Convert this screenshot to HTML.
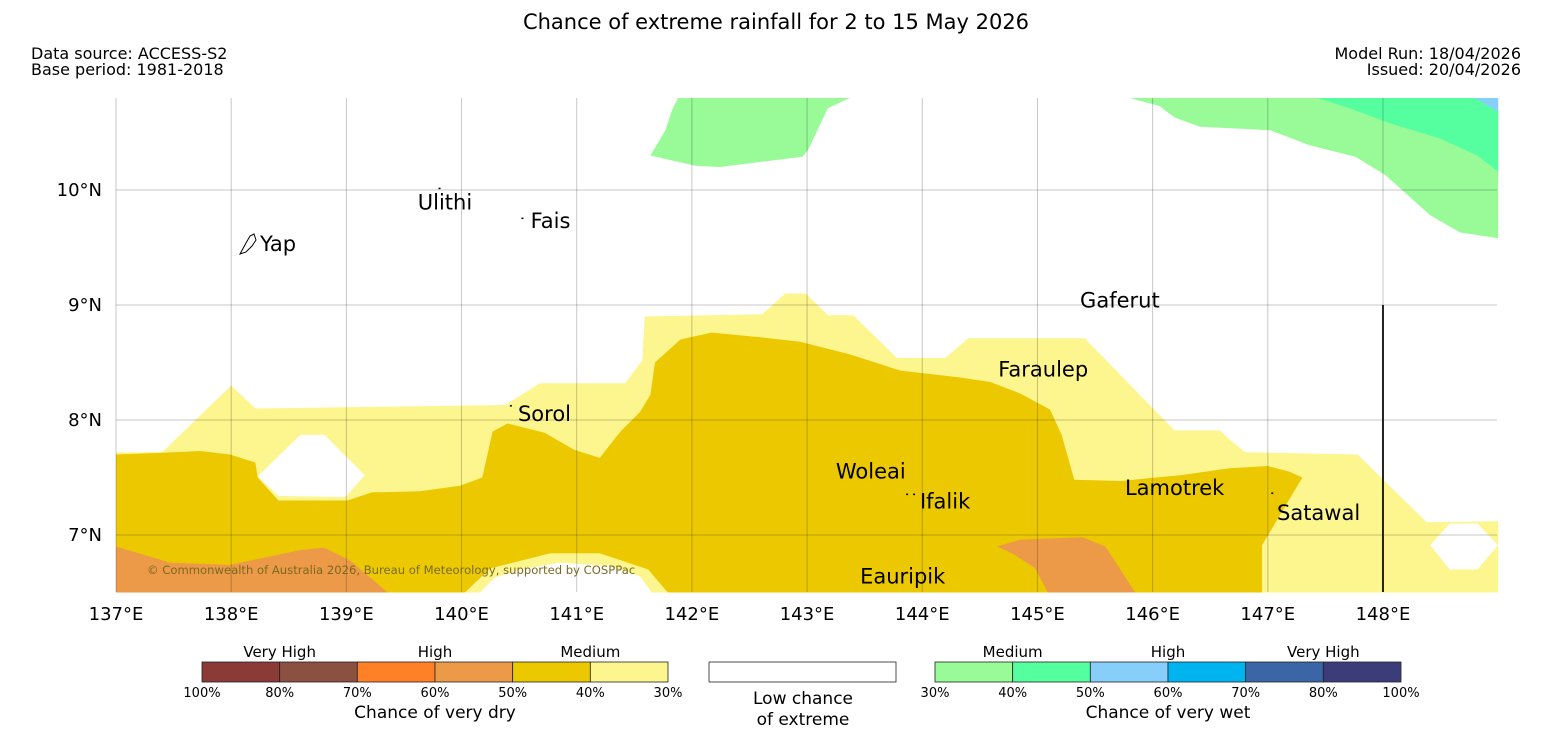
<!DOCTYPE html>
<html><head><meta charset="utf-8"><style>
body{margin:0;background:#fff;width:1552px;height:736px;overflow:hidden;font-family:"Liberation Sans","DejaVu Sans",sans-serif}
</style></head><body>
<svg id="c" width="1552" height="736" xmlns="http://www.w3.org/2000/svg" font-family="DejaVu Sans, Liberation Sans, sans-serif">
<text x="776" y="29" text-anchor="middle" font-size="21">Chance of extreme rainfall for 2 to 15 May 2026</text>
<text x="31" y="59" font-size="16">Data source: ACCESS-S2</text>
<text x="31" y="75" font-size="16">Base period: 1981-2018</text>
<text x="1521" y="59" font-size="16" text-anchor="end">Model Run: 18/04/2026</text>
<text x="1521" y="75" font-size="16" text-anchor="end">Issued: 20/04/2026</text>
<g id="map"></g>
<g id="axes"></g>
<g id="legend"></g>
</svg>
<script>
const lonTicks=[137,138,139,140,141,142,143,144,145,146,147,148];
const latTicks=[10,9,8,7];
const lightYellow=[[137,7.72],[137.4,7.72],[138,8.3],[138.21,8.1],[140.38,8.13],[140.68,8.32],[141.42,8.32],[141.57,8.52],[141.59,8.9],[142.61,8.92],[142.81,9.1],[142.99,9.1],[143.18,8.91],[143.4,8.91],[143.78,8.54],[144.2,8.54],[144.4,8.71],[145.41,8.71],[146.19,7.91],[146.58,7.91],[146.8,7.72],[147.78,7.7],[148.38,7.11],[149,7.12],[149,6.5],[137,6.5]];
const whiteHole1=[[138.6,7.87],[138.81,7.87],[139.16,7.52],[138.99,7.33],[138.41,7.34],[138.23,7.51]];
const whiteHole2=[[148.41,6.91],[148.58,7.1],[148.82,7.1],[149,6.91],[148.82,6.7],[148.58,6.7]];
const whiteBottom=[[140.16,6.5],[140.29,6.63],[140.51,6.7],[140.85,6.76],[141.29,6.73],[141.55,6.64],[141.65,6.5]];
const darkYellow=[[137,7.7],[137.51,7.72],[137.73,7.73],[137.99,7.7],[138.21,7.63],[138.23,7.5],[138.41,7.3],[139.01,7.3],[139.22,7.37],[139.64,7.38],[139.99,7.43],[140.18,7.5],[140.27,7.9],[140.4,7.97],[140.72,7.89],[140.98,7.74],[141.2,7.67],[141.38,7.9],[141.55,8.07],[141.64,8.22],[141.68,8.5],[141.9,8.7],[142.17,8.76],[142.59,8.72],[142.94,8.68],[143.37,8.57],[143.81,8.43],[144.33,8.37],[144.59,8.33],[144.85,8.23],[145.11,8.09],[145.21,7.87],[145.32,7.48],[145.72,7.47],[146.24,7.52],[146.67,7.58],[147,7.6],[147.19,7.55],[147.3,7.5],[146.95,6.91],[146.95,6.5],[141.79,6.5],[141.62,6.7],[141.2,6.84],[140.77,6.84],[140.25,6.71],[140.03,6.5],[137,6.5]];
const orangeLeft=[[137,6.9],[137.47,6.76],[137.99,6.74],[138.6,6.87],[138.81,6.89],[139.03,6.78],[139.36,6.5],[137,6.5]];
const orangeMid=[[144.65,6.9],[144.85,6.96],[145.39,6.98],[145.59,6.9],[145.85,6.5],[145.09,6.5],[144.98,6.71],[144.8,6.83]];
const greenTop=[[141.88,10.8],[143.37,10.8],[143.18,10.71],[143.01,10.35],[142.96,10.29],[142.24,10.2],[142.03,10.21],[141.64,10.3],[141.77,10.52],[141.83,10.7]];
const greenRight=[[145.8,10.8],[149,10.8],[149,9.58],[148.67,9.63],[148.41,9.78],[148.02,10.13],[147.76,10.29],[147.36,10.39],[147.02,10.52],[146.41,10.55],[146.19,10.63],[146.06,10.73]];
const greenMid=[[147.43,10.8],[148.83,10.8],[149,10.7],[149,10.16],[148.82,10.3],[148.49,10.45],[148.06,10.58],[147.71,10.71]];
const blueCorner=[[148.8,10.8],[149,10.8],[149,10.68]];
const places=["Ulithi","Fais","Yap","Gaferut","Faraulep","Sorol","Woleai","Ifalik","Lamotrek","Satawal","Eauripik"];
const placeLon=[139.62,140.6,138.25,145.37,144.66,140.49,143.25,143.98,145.76,147.08,143.46];
const placeLat=[9.83,9.67,9.47,8.98,8.38,7.99,7.49,7.23,7.35,7.13,6.58];
const islandLon=[139.8,140.52,140.42,143.86,143.92,147.03];
const islandLat=[10.02,9.76,8.13,7.36,7.36,7.37];
const dryLabels=["100%","80%","70%","60%","50%","40%","30%"];
const wetLabels=["30%","40%","50%","60%","70%","80%","100%"];
const dryColors=["#8b3a35","#8b5040","#ff8027","#ec9a48","#ecc800","#fdf58e"];
const wetColors=["#98fb98","#55ff9f","#87cefa","#00b4f0","#3a66a8","#3c3c7a"];

const NS="http://www.w3.org/2000/svg";
const X=lon=>116+(lon-137)*115.18;
const Y=lat=>190+(10-lat)*115;
function mk(tag,attrs,parent,txt){const e=document.createElementNS(NS,tag);for(const k in attrs)e.setAttribute(k,attrs[k]);if(txt!==undefined)e.textContent=txt;parent.appendChild(e);return e;}
const map=document.getElementById('map'),axes=document.getElementById('axes'),leg=document.getElementById('legend');
function poly(pts,fill,name){const p=mk('polygon',{points:pts.map(q=>X(q[0]).toFixed(1)+','+Y(q[1]).toFixed(1)).join(' '),fill:fill},map);

}
poly(lightYellow,'#fdf58e','medium-dry-40-30');
poly(whiteHole1,'#ffffff','low-chance-area-west');
poly(whiteHole2,'#ffffff','low-chance-area-east');
poly(darkYellow,'#ecc800','medium-dry-50-40');
poly(orangeLeft,'#ec9a48','high-dry-west');
poly(orangeMid,'#ec9a48','high-dry-central');
poly([[140.03,6.5],[140.25,6.71],[140.77,6.84],[141.2,6.84],[141.62,6.7],[141.79,6.5]],'#fdf58e','medium-dry-south');
poly(whiteBottom,'#ffffff','low-chance-area-south');
poly(greenTop,'#98fb98','medium-wet-north');
poly(greenRight,'#98fb98','medium-wet-northeast');
poly(greenMid,'#55ff9f','medium-wet-40-50');
poly(blueCorner,'#87cefa','high-wet-corner');
lonTicks.forEach(l=>{const g=mk('line',{x1:X(l),x2:X(l),y1:98,y2:592,stroke:'rgba(0,0,0,0.22)','stroke-width':1},axes);


const t=mk('text',{x:X(l),y:620,'text-anchor':'middle','font-size':18},axes,l+'°E');

});
latTicks.forEach(l=>{const g=mk('line',{x1:116,x2:1497,y1:Y(l),y2:Y(l),stroke:'rgba(0,0,0,0.22)','stroke-width':1},axes);


const t=mk('text',{x:102,y:Y(l)+6,'text-anchor':'end','font-size':18},axes,l+'°N');

});
const vl=mk('line',{x1:X(148),x2:X(148),y1:Y(9),y2:592,stroke:'#222','stroke-width':2},axes);


islandLon.forEach((l,i)=>{const d=mk('rect',{x:X(l),y:Y(islandLat[i]),width:2,height:1.5,fill:'#000'},axes);

});
const yap=mk('path',{d:'M240,254 L246,243 L250,236 L254,234 L256,240 L252,246 L246,252 Z',fill:'none',stroke:'#000','stroke-width':1},axes);


places.forEach((p,i)=>{const t=mk('text',{x:X(placeLon[i]),y:Y(placeLat[i]),'font-size':21},axes,p);

});
const cp=mk('text',{x:147,y:574,'font-size':11.6,fill:'#7a6a20'},axes,'© Commonwealth of Australia 2026, Bureau of Meteorology, supported by COSPPac');


function bar(x0,colors,labels,cats,catX,title,name){const w=(466)/6;
colors.forEach((c,i)=>{const r=mk('rect',{x:x0+i*w,y:662,width:w,height:20,fill:c,stroke:'#222','stroke-width':0.8},leg);

});
labels.forEach((l,i)=>{const t=mk('text',{x:x0+i*w,y:697,'text-anchor':'middle','font-size':13},leg,l);

});
cats.forEach((c,i)=>{const t=mk('text',{x:x0+catX[i]*w,y:657,'text-anchor':'middle','font-size':15},leg,c);

});
const t=mk('text',{x:x0+233,y:718,'text-anchor':'middle','font-size':17},leg,title);

}
bar(202,dryColors,dryLabels,["Very High","High","Medium"],[1,3,5],'Chance of very dry','dry-legend');
bar(935,wetColors,wetLabels,["Medium","High","Very High"],[1,3,5],'Chance of very wet','wet-legend');
const wb=mk('rect',{x:709,y:662,width:187,height:20,fill:'#fff',stroke:'#222','stroke-width':0.8},leg);


const l1=mk('text',{x:803,y:704,'text-anchor':'middle','font-size':17},leg,'Low chance');


const l2=mk('text',{x:803,y:725,'text-anchor':'middle','font-size':17},leg,'of extreme');


</script>
</body></html>
